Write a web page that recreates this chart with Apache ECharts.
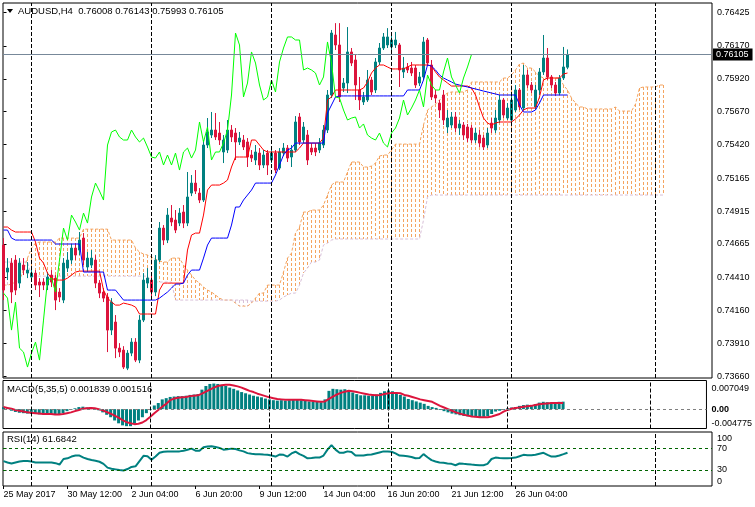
<!DOCTYPE html>
<html>
<head>
<meta charset="utf-8">
<script src="https://cdn.jsdelivr.net/npm/echarts@6.0.0/dist/echarts.min.js"></script>
<style>
html,body{margin:0;padding:0;background:#ffffff;}
#chart{width:755px;height:507px;}
</style>
</head>
<body>
<div id="chart"></div>
<script>
// ================= DATA =================
const symbolName = 'AUDUSD,H4';
const timeLabels = ['25 May 2017','30 May 12:00','2 Jun 04:00','6 Jun 20:00','9 Jun 12:00','14 Jun 04:00','16 Jun 20:00','21 Jun 12:00','26 Jun 04:00'];
const timeLabelBars = [0,16,32,48,64,80,96,112,128];
const gridLineBars = [7,37,67,97,127,163];
const priceTicks = [0.73660,0.73910,0.74160,0.74410,0.74665,0.74915,0.75165,0.75420,0.75670,0.75920,0.76170,0.76425];
const macdTicks = [-0.004775,0,0.007049];
const rsiTicks = [0,30,70,100];
const rsiLevels = [30,70];
const CHIKOU_SHIFT = 24;

// candles: [open, close, low, high]
const candles = [
[0.74657,0.74315,0.74239,0.74710],[0.74452,0.74482,0.74391,0.74558],[0.74520,0.74300,0.74216,0.74558],[0.74543,0.74315,0.74277,0.74581],[0.74368,0.74520,0.74330,0.74558],
[0.74505,0.74467,0.74429,0.74558],[0.74444,0.74467,0.74406,0.74528],[0.74414,0.74444,0.74376,0.74482],[0.74444,0.74353,0.74315,0.74467],[0.74376,0.74353,0.74262,0.74406],
[0.74376,0.74353,0.74315,0.74406],[0.74353,0.74414,0.74315,0.74452],[0.74429,0.74376,0.74338,0.74467],[0.74406,0.74239,0.74163,0.74429],[0.74300,0.74262,0.74224,0.74330],
[0.74239,0.74520,0.74216,0.74558],[0.74482,0.74543,0.74452,0.74604],[0.74543,0.74634,0.74513,0.74665],[0.74634,0.74581,0.74543,0.74672],[0.74619,0.74695,0.74581,0.74756],
[0.74710,0.74543,0.74505,0.74748],[0.74490,0.74558,0.74452,0.74604],[0.74505,0.74558,0.74482,0.74619],[0.74543,0.74368,0.74330,0.74581],[0.74368,0.74292,0.74254,0.74391],
[0.74300,0.74254,0.74224,0.74330],[0.74262,0.74011,0.73844,0.74292],[0.74011,0.74224,0.73973,0.74254],[0.74072,0.73874,0.73798,0.74125],[0.73874,0.73844,0.73806,0.73912],
[0.73859,0.73730,0.73715,0.73889],[0.73722,0.73836,0.73707,0.73859],[0.73836,0.73920,0.73813,0.73950],[0.73920,0.73783,0.73768,0.73950],[0.73783,0.74087,0.73760,0.74125],
[0.74087,0.74391,0.74072,0.74444],[0.74368,0.74406,0.74330,0.74482],[0.74391,0.74300,0.74254,0.74429],[0.74300,0.74543,0.74269,0.74581],[0.74543,0.74786,0.74528,0.74832],
[0.74786,0.74695,0.74657,0.74809],[0.74695,0.74885,0.74672,0.74938],[0.74862,0.74832,0.74801,0.74961],[0.74847,0.74771,0.74748,0.74923],[0.74824,0.74900,0.74801,0.74938],
[0.74908,0.74824,0.74786,0.74961],[0.74824,0.75022,0.74801,0.75212],[0.75052,0.75128,0.75029,0.75189],[0.75128,0.75067,0.75045,0.75227],[0.75052,0.74999,0.74976,0.75090],
[0.74999,0.75417,0.74984,0.75455],[0.75417,0.75516,0.75394,0.75622],[0.75493,0.75531,0.75470,0.75668],[0.75531,0.75478,0.75455,0.75660],[0.75508,0.75455,0.75417,0.75592],
[0.75364,0.75455,0.75280,0.75493],[0.75379,0.75531,0.75356,0.75607],[0.75531,0.75478,0.75440,0.75569],[0.75508,0.75440,0.75303,0.75546],[0.75440,0.75470,0.75417,0.75516],
[0.75455,0.75402,0.75379,0.75493],[0.75440,0.75326,0.75250,0.75470],[0.75341,0.75318,0.75288,0.75379],[0.75303,0.75364,0.75265,0.75417],[0.75356,0.75265,0.75227,0.75394],
[0.75265,0.75341,0.75242,0.75379],[0.75356,0.75265,0.75189,0.75379],[0.75303,0.75356,0.75280,0.75394],[0.75356,0.75227,0.75204,0.75379],[0.75242,0.75364,0.75227,0.75394],
[0.75356,0.75394,0.75333,0.75432],[0.75394,0.75318,0.75288,0.75417],[0.75326,0.75379,0.75250,0.75417],[0.75379,0.75592,0.75364,0.75637],[0.75630,0.75440,0.75417,0.75660],
[0.75455,0.75554,0.75432,0.75592],[0.75493,0.75303,0.75265,0.75531],[0.75394,0.75364,0.75341,0.75432],[0.75394,0.75364,0.75333,0.75432],[0.75379,0.75432,0.75356,0.75470],
[0.75417,0.75531,0.75394,0.75569],[0.75531,0.75797,0.75508,0.75835],[0.75797,0.76268,0.75774,0.76291],[0.76253,0.76177,0.76139,0.76343],[0.76177,0.75782,0.75744,0.76343],
[0.75850,0.75888,0.75820,0.75926],[0.75888,0.76124,0.75812,0.76313],[0.76124,0.76040,0.76017,0.76154],[0.76063,0.75873,0.75759,0.76101],[0.75835,0.75759,0.75683,0.75934],
[0.75744,0.75782,0.75721,0.75820],[0.75759,0.75911,0.75744,0.75987],[0.75911,0.75820,0.75797,0.75934],[0.75835,0.76048,0.75812,0.76078],[0.76048,0.76154,0.76025,0.76192],
[0.76154,0.76238,0.76139,0.76268],[0.76177,0.76238,0.76154,0.76305],[0.76162,0.76215,0.76124,0.76276],[0.76177,0.76215,0.76154,0.76276],[0.76177,0.75987,0.75858,0.76192],
[0.75972,0.76002,0.75926,0.76086],[0.76010,0.75987,0.75964,0.76040],[0.76002,0.75964,0.75941,0.76048],[0.76002,0.75873,0.75850,0.76025],[0.75888,0.75934,0.75865,0.75972],
[0.75934,0.76200,0.75911,0.76238],[0.76215,0.76040,0.76017,0.76230],[0.76025,0.75782,0.75759,0.76063],[0.75797,0.75774,0.75736,0.75835],[0.75736,0.75683,0.75622,0.75759],
[0.75797,0.75607,0.75569,0.75835],[0.75554,0.75622,0.75508,0.75683],[0.75569,0.75630,0.75546,0.75668],[0.75630,0.75546,0.75516,0.75668],[0.75546,0.75577,0.75493,0.75607],
[0.75569,0.75493,0.75455,0.75592],[0.75554,0.75470,0.75440,0.75577],[0.75546,0.75455,0.75432,0.75569],[0.75455,0.75508,0.75432,0.75546],[0.75493,0.75432,0.75402,0.75531],
[0.75470,0.75402,0.75379,0.75493],[0.75417,0.75508,0.75394,0.75546],[0.75584,0.75546,0.75508,0.75622],[0.75531,0.75622,0.75508,0.75683],[0.75607,0.75759,0.75584,0.75797],
[0.75759,0.75645,0.75622,0.75774],[0.75622,0.75698,0.75607,0.75736],[0.75607,0.75759,0.75592,0.75797],[0.75683,0.75835,0.75668,0.75873],[0.75835,0.75706,0.75683,0.75850],
[0.75698,0.75949,0.75683,0.76025],[0.75949,0.75873,0.75850,0.75987],[0.75873,0.75835,0.75812,0.75896],[0.75706,0.75835,0.75683,0.75873],[0.75835,0.75972,0.75797,0.76002],
[0.75972,0.76078,0.75949,0.76253],[0.76078,0.75934,0.75911,0.76154],[0.75934,0.75873,0.75850,0.75949],[0.75873,0.75812,0.75789,0.75896],[0.75812,0.75926,0.75797,0.75949],
[0.75926,0.76010,0.75911,0.76162],[0.76008,0.76105,0.75993,0.76143]
];

const tenkan = [
0.74794,0.74794,0.74771,0.74756,0.74756,0.74756,0.74756,0.74756,0.74680,0.74558,
0.74520,0.74444,0.74406,0.74391,0.74391,0.74391,0.74406,0.74429,0.74452,0.74459,
0.74459,0.74459,0.74459,0.74459,0.74459,0.74315,0.74254,0.74224,0.74201,0.74201,
0.74216,0.74209,0.74201,0.74186,0.74133,0.74133,0.74133,0.74133,0.74133,0.74315,
0.74368,0.74368,0.74368,0.74368,0.74368,0.74368,0.74619,0.74733,0.74748,0.74748,
0.74885,0.75075,0.75113,0.75113,0.75113,0.75128,0.75151,0.75250,0.75326,0.75326,
0.75326,0.75326,0.75455,0.75455,0.75417,0.75379,0.75364,0.75364,0.75364,0.75364,
0.75364,0.75364,0.75364,0.75364,0.75394,0.75432,0.75432,0.75432,0.75432,0.75432,
0.75470,0.75759,0.75782,0.75835,0.75835,0.75835,0.75835,0.75835,0.75835,0.75835,
0.75850,0.75896,0.75964,0.76002,0.76025,0.76025,0.76010,0.75995,0.75995,0.75995,
0.75995,0.76010,0.76025,0.76025,0.76025,0.76025,0.76025,0.76017,0.75972,0.75934,
0.75911,0.75888,0.75865,0.75865,0.75865,0.75865,0.75865,0.75850,0.75797,0.75706,
0.75622,0.75584,0.75569,0.75584,0.75592,0.75592,0.75592,0.75592,0.75615,0.75645,
0.75683,0.75698,0.75698,0.75698,0.75782,0.75911,0.75926,0.75926,0.75926,0.75926,
0.75957,0.75964
];

const kijun = [
0.74771,0.74771,0.74710,0.74695,0.74695,0.74695,0.74695,0.74695,0.74695,0.74695,
0.74695,0.74695,0.74695,0.74665,0.74665,0.74665,0.74665,0.74665,0.74665,0.74665,
0.74452,0.74452,0.74452,0.74452,0.74452,0.74452,0.74315,0.74315,0.74315,0.74277,
0.74239,0.74239,0.74239,0.74239,0.74239,0.74239,0.74239,0.74239,0.74239,0.74254,
0.74277,0.74300,0.74330,0.74361,0.74361,0.74368,0.74429,0.74467,0.74467,0.74467,
0.74558,0.74657,0.74710,0.74710,0.74710,0.74710,0.74710,0.74809,0.74946,0.74946,
0.74999,0.75037,0.75075,0.75128,0.75128,0.75128,0.75128,0.75128,0.75189,0.75265,
0.75341,0.75379,0.75394,0.75432,0.75432,0.75432,0.75432,0.75432,0.75432,0.75432,
0.75432,0.75660,0.75721,0.75782,0.75790,0.75790,0.75790,0.75790,0.75790,0.75790,
0.75790,0.75790,0.75790,0.75790,0.75790,0.75790,0.75790,0.75790,0.75790,0.75790,
0.75790,0.75835,0.75835,0.75835,0.75835,0.75911,0.76025,0.76017,0.75987,0.75949,
0.75926,0.75911,0.75896,0.75880,0.75873,0.75865,0.75858,0.75850,0.75843,0.75835,
0.75827,0.75820,0.75812,0.75805,0.75797,0.75797,0.75797,0.75797,0.75797,0.75721,
0.75668,0.75668,0.75668,0.75683,0.75736,0.75797,0.75797,0.75797,0.75797,0.75797,
0.75797,0.75797
];

const spanA = [
0.74353,0.74353,0.74361,0.74376,0.74391,0.74467,0.74558,0.74634,0.74672,0.74680,
0.74680,0.74680,0.74680,0.74680,0.74710,0.74710,0.74710,0.74710,0.74710,0.74710,
0.74778,0.74778,0.74778,0.74778,0.74778,0.74778,0.74778,0.74695,0.74695,0.74695,
0.74695,0.74695,0.74695,0.74634,0.74604,0.74589,0.74581,0.74566,0.74551,0.74535,
0.74528,0.74528,0.74558,0.74558,0.74558,0.74505,0.74467,0.74429,0.74391,0.74368,
0.74338,0.74315,0.74300,0.74277,0.74254,0.74239,0.74239,0.74239,0.74216,0.74193,
0.74193,0.74193,0.74216,0.74254,0.74292,0.74292,0.74353,0.74353,0.74353,0.74353,
0.74452,0.74558,0.74596,0.74748,0.74794,0.74908,0.74908,0.74923,0.74923,0.74923,
0.74961,0.75037,0.75113,0.75136,0.75136,0.75136,0.75212,0.75288,0.75288,0.75288,
0.75250,0.75250,0.75257,0.75280,0.75333,0.75341,0.75341,0.75379,0.75424,0.75424,
0.75424,0.75424,0.75424,0.75424,0.75424,0.75569,0.75683,0.75706,0.75728,0.75759,
0.75790,0.75812,0.75820,0.75820,0.75820,0.75820,0.75835,0.75896,0.75896,0.75896,
0.75896,0.75896,0.75896,0.75896,0.75896,0.75926,0.75926,0.75949,0.75987,0.76032,
0.76040,0.76002,0.76002,0.75972,0.75941,0.75926,0.75926,0.75926,0.75926,0.75926,
0.75873,0.75835,0.75774,0.75736,0.75706,0.75706,0.75691,0.75691,0.75691,0.75691,
0.75691,0.75691,0.75691,0.75706,0.75675,0.75675,0.75675,0.75675,0.75728,0.75850,
0.75858,0.75858,0.75858,0.75858,0.75873,0.75873
];

const spanB = [
0.74528,0.74528,0.74528,0.74528,0.74528,0.74528,0.74528,0.74421,0.74421,0.74421,
0.74421,0.74421,0.74421,0.74421,0.74421,0.74421,0.74421,0.74421,0.74421,0.74421,
0.74421,0.74421,0.74421,0.74421,0.74421,0.74421,0.74421,0.74421,0.74421,0.74421,
0.74421,0.74421,0.74421,0.74421,0.74421,0.74421,0.74421,0.74376,0.74376,0.74376,
0.74376,0.74376,0.74376,0.74239,0.74239,0.74239,0.74239,0.74239,0.74239,0.74239,
0.74239,0.74239,0.74239,0.74239,0.74239,0.74239,0.74239,0.74239,0.74239,0.74239,
0.74239,0.74239,0.74231,0.74231,0.74231,0.74231,0.74231,0.74231,0.74231,0.74239,
0.74262,0.74277,0.74292,0.74292,0.74353,0.74444,0.74482,0.74528,0.74528,0.74543,
0.74657,0.74672,0.74695,0.74703,0.74703,0.74703,0.74703,0.74703,0.74703,0.74703,
0.74703,0.74703,0.74703,0.74703,0.74703,0.74703,0.74703,0.74703,0.74703,0.74703,
0.74703,0.74703,0.74703,0.74703,0.74703,0.74847,0.75022,0.75037,0.75037,0.75037,
0.75037,0.75037,0.75037,0.75037,0.75037,0.75037,0.75037,0.75037,0.75037,0.75037,
0.75037,0.75037,0.75037,0.75037,0.75037,0.75037,0.75037,0.75037,0.75037,0.75037,
0.75037,0.75037,0.75037,0.75037,0.75037,0.75037,0.75037,0.75037,0.75037,0.75037,
0.75037,0.75037,0.75037,0.75037,0.75037,0.75037,0.75037,0.75037,0.75037,0.75037,
0.75037,0.75037,0.75037,0.75037,0.75037,0.75037,0.75037,0.75037,0.75037,0.75037,
0.75037,0.75037,0.75037,0.75037,0.75037,0.75037
];

const macdHist = [
0.0005,0.0002,-0.0004,-0.0007,-0.0009,-0.0010,-0.0011,-0.0012,-0.0012,-0.0013,
-0.0013,-0.0012,-0.0012,-0.0014,-0.0014,-0.0010,-0.0005,-0.0002,0.0002,0.0005,
0.0006,0.0004,0.0005,0.0002,-0.0003,-0.0008,-0.0014,-0.0020,-0.0028,-0.0035,
-0.0040,-0.0042,-0.0042,-0.0036,-0.0028,-0.0020,-0.0010,-0.0002,0.0009,0.0015,
0.0024,0.0027,0.0030,0.0031,0.0032,0.0032,0.0033,0.0035,0.0036,0.0037,
0.0048,0.0057,0.0062,0.0063,0.0062,0.0060,0.0057,0.0053,0.0050,0.0046,
0.0042,0.0039,0.0036,0.0033,0.0031,0.0029,0.0026,0.0024,0.0022,0.0021,
0.0022,0.0021,0.0022,0.0024,0.0024,0.0022,0.0020,0.0019,0.0018,0.0018,
0.0017,0.0024,0.0045,0.0050,0.0049,0.0048,0.0049,0.0046,0.0041,0.0037,
0.0034,0.0034,0.0033,0.0033,0.0036,0.0040,0.0044,0.0046,0.0044,0.0040,
0.0035,0.0031,0.0025,0.0022,0.0019,0.0016,0.0013,0.0008,0.0005,0.0003,
-0.0002,-0.0005,-0.0008,-0.0011,-0.0013,-0.0015,-0.0017,-0.0018,-0.0019,-0.0020,
-0.0020,-0.0019,-0.0017,-0.0012,-0.0006,-0.0004,-0.0002,0.0002,0.0004,0.0005,
0.0008,0.0010,0.0011,0.0010,0.0012,0.0016,0.0018,0.0017,0.0016,0.0017,
0.0018,0.001839
];

const macdSignal = [
0.0005,0.0003,0.0001,-0.0002,-0.0004,-0.0006,-0.0008,-0.0009,-0.0010,-0.0011,
-0.0012,-0.0012,-0.0012,-0.0013,-0.0013,-0.0012,-0.0010,-0.0008,-0.0005,-0.0002,
0.0001,0.0002,0.0003,0.0002,0.0000,-0.0003,-0.0007,-0.0011,-0.0016,-0.0021,
-0.0027,-0.0032,-0.0035,-0.0037,-0.0036,-0.0033,-0.0027,-0.0019,-0.0010,-0.0002,
0.0006,0.0013,0.0022,0.0026,0.0028,0.0029,0.0030,0.0032,0.0033,0.0034,
0.0038,0.0043,0.0048,0.0053,0.0057,0.0059,0.0060,0.0060,0.0058,0.0056,
0.0053,0.0049,0.0045,0.0042,0.0038,0.0035,0.0032,0.0029,0.0027,0.0025,
0.0024,0.0023,0.0023,0.0023,0.0023,0.0023,0.0022,0.0021,0.0020,0.0019,
0.0018,0.0019,0.0025,0.0031,0.0036,0.0040,0.0043,0.0045,0.0044,0.0042,
0.0040,0.0038,0.0036,0.0035,0.0034,0.0035,0.0037,0.0039,0.0040,0.0040,
0.0039,0.0035,0.0033,0.0030,0.0027,0.0024,0.0022,0.0020,0.0018,0.0013,
0.0008,0.0004,0.0000,-0.0004,-0.0008,-0.0011,-0.0014,-0.0016,-0.0018,-0.0019,
-0.0020,-0.0020,-0.0020,-0.0018,-0.0015,-0.0012,-0.0006,-0.0002,0.0001,0.0003,
0.0004,0.0006,0.0007,0.0008,0.0010,0.0012,0.0013,0.0014,0.0015,0.0015,
0.0015,0.001516
];

const rsi = [
46.0,43.6,41.7,43.6,45.5,46.2,46.2,45.5,43.6,43.6,
43.6,43.6,43.6,42.3,39.7,50.0,51.3,54.5,56.4,56.4,
52.6,50.0,48.0,46.8,44.9,41.0,34.0,32.0,30.8,29.5,
28.8,31.4,35.3,36.5,46.2,55.8,55.1,48.7,54.5,61.5,
63.5,64.1,64.1,64.1,64.1,65.4,67.3,69.2,65.4,65.4,
71.8,73.0,73.7,72.4,70.5,67.3,68.0,69.2,68.6,66.0,
64.1,60.9,59.6,59.0,59.0,58.3,57.7,56.4,54.5,58.3,
57.7,54.5,60.3,63.5,59.0,55.8,51.3,51.9,52.6,52.6,
56.4,67.3,75.6,67.3,61.5,61.5,64.1,62.8,56.4,56.4,
56.4,57.7,58.3,60.3,62.2,64.1,64.1,63.5,60.3,56.4,
55.8,55.1,53.8,51.3,51.9,59.0,53.2,48.0,45.5,43.6,
42.9,41.7,41.0,38.5,41.7,41.0,40.4,39.7,39.1,38.5,
38.5,41.0,50.0,52.6,51.9,51.3,51.3,51.9,52.6,55.1,
57.7,57.0,57.0,57.7,59.6,61.5,57.7,54.5,54.5,56.4,
59.0,61.6842
];

// ================= DERIVED =================
const closes = candles.map(c => c[1]);
const chikou = closes.slice(CHIKOU_SHIFT);           // close plotted CHIKOU_SHIFT bars back
const last = candles[candles.length - 1];
const lastClose = last[1];

// ================= STYLE / LAYOUT =================
const FONT = 'Liberation Sans';
const BULL = '#008080', BEAR = '#DC143C';
const SANDY = '#F4A460', THISTLE = '#D8BFD8';
const X_MIN = -0.125, X_MAX = 177.125;      // 4 px per bar over 709 px
const PRICE_MIN = 0.73647, PRICE_MAX = 0.76496;
const MACD_MIN = macdTicks[0], MACD_MAX = macdTicks[2];
const grids = [
  {left: 3, top: 3, width: 709, height: 375},
  {left: 3, top: 380.5, width: 709, height: 48},
  {left: 3, top: 432, width: 709, height: 54}
];
const lbl = {color: '#000', fontSize: 9, fontFamily: FONT};
const vLineStyle = {color: '#000', type: [4, 2], width: 1};
const vLines = gridLineBars.map(v => ({xAxis: v, lineStyle: vLineStyle}));

function yAx(grid, min, max, vals, fmt, va, tick, pad, weight) {
  return {
    type: 'value', gridIndex: grid, position: 'right', min: min, max: max,
    axisLine: {show: false}, splitLine: {show: false},
    axisTick: {show: tick, customValues: vals, length: 3, lineStyle: {color: '#000'}},
    axisLabel: Object.assign({customValues: vals, formatter: fmt, margin: 5, verticalAlign: va,
      padding: pad || 0, fontWeight: weight || 'normal'}, lbl)
  };
}

// Kumo hatching: dotted vertical strokes (small filled rects) between Senkou A and B
function renderKumo(params, api) {
  const i = api.value(0), a = api.value(1), b = api.value(2);
  const pa = api.coord([i, a]), pb = api.coord([i, b]);
  const x = Math.floor(pa[0]);
  const top = Math.round(Math.min(pa[1], pb[1])), bottom = Math.round(Math.max(pa[1], pb[1]));
  const fill = a >= b ? SANDY : THISTLE;
  const children = [];
  for (let y = top; y < bottom; y += 5) {
    children.push({type: 'rect', shape: {x: x, y: y, width: 1, height: Math.min(3, bottom - y)},
      style: {fill: fill, stroke: null}});
  }
  return {type: 'group', children: children};
}

const chart = echarts.init(document.getElementById('chart'), null, {renderer: 'canvas'});
const option = {
  animation: false,
  backgroundColor: '#ffffff',
  textStyle: {fontFamily: FONT},
  grid: grids.map(g => Object.assign({show: true, borderColor: '#000', borderWidth: 1, backgroundColor: 'transparent'}, g)),
  xAxis: [0, 1, 2].map(g => ({
    type: 'value', gridIndex: g, min: X_MIN, max: X_MAX, show: g === 2,
    axisLine: {show: false}, splitLine: {show: false},
    axisTick: {show: g === 2, customValues: timeLabelBars, length: 3, lineStyle: {color: '#000'}},
    axisLabel: Object.assign({show: g === 2, customValues: timeLabelBars, align: 'left', margin: 4,
      formatter: v => timeLabels[timeLabelBars.indexOf(v)] || ''}, lbl)
  })),
  yAxis: [
    yAx(0, PRICE_MIN, PRICE_MAX, priceTicks, v => v.toFixed(5), 'middle', true),
    yAx(1, MACD_MIN, MACD_MAX, [0], () => '0.00', 'middle', true, 0, 'bold'),
    yAx(1, MACD_MIN, MACD_MAX, [MACD_MAX], v => v.toFixed(6), 'top', false, [4, 0, 0, 0]),
    yAx(1, MACD_MIN, MACD_MAX, [MACD_MIN], v => v.toFixed(6), 'bottom', false),
    yAx(2, 0, 100, rsiLevels, v => String(v), 'middle', true),
    yAx(2, 0, 100, [100], v => String(v), 'top', false, [2, 0, 0, 0]),
    yAx(2, 0, 100, [0], v => String(v), 'bottom', false)
  ],
  graphic: [
    {type: 'polygon', shape: {points: [[7, 9], [13, 9], [10, 13]]}, style: {fill: '#000'}, silent: true},
    {type: 'text', x: 18, y: 11, silent: true, style: {
      text: symbolName + '  ' + [last[0], last[3], last[2], last[1]].map(v => v.toFixed(5)).join(' '),
      fill: '#000', fontSize: 9.5, fontFamily: FONT, verticalAlign: 'middle'}},
    {type: 'text', x: 7, y: 389, silent: true, style: {
      text: 'MACD(5,35,5) ' + macdHist[macdHist.length - 1].toFixed(6) + ' ' + macdSignal[macdSignal.length - 1].toFixed(6),
      fill: '#000', fontSize: 9.5, fontFamily: FONT, verticalAlign: 'middle'}},
    {type: 'text', x: 7, y: 439, silent: true, style: {
      text: 'RSI(14) ' + rsi[rsi.length - 1].toFixed(4),
      fill: '#000', fontSize: 9.5, fontFamily: FONT, verticalAlign: 'middle'}}
  ],
  series: [
    {type: 'custom', name: 'Kumo', xAxisIndex: 0, yAxisIndex: 0, z: 1, clip: true, silent: true,
      data: spanA.map((a, i) => [i, a, spanB[i]]),
      encode: {x: 0, y: [1, 2]},
      renderItem: renderKumo,
      markLine: {silent: true, symbol: ['none', 'none'], label: {show: false}, data: vLines}},
    {type: 'line', name: 'Senkou A', xAxisIndex: 0, yAxisIndex: 0, z: 2, symbol: 'none', silent: true,
      data: spanA.map((v, i) => [i, v]), lineStyle: {color: SANDY, width: 1, type: [3, 2]}},
    {type: 'line', name: 'Senkou B', xAxisIndex: 0, yAxisIndex: 0, z: 2, symbol: 'none', silent: true,
      data: spanB.map((v, i) => [i, v]), lineStyle: {color: THISTLE, width: 1, type: [3, 2]}},
    {type: 'candlestick', name: symbolName, xAxisIndex: 0, yAxisIndex: 0, z: 3, silent: true,
      data: candles.map((c, i) => [i, c[0], c[1], c[2], c[3]]),
      encode: {x: 0, y: [1, 2, 3, 4]},
      barWidth: 2,
      itemStyle: {color: BULL, color0: BEAR, borderColor: BULL, borderColor0: BEAR, borderWidth: 1}
    },
    {type: 'line', name: 'Tenkan-sen', xAxisIndex: 0, yAxisIndex: 0, z: 4, symbol: 'none', silent: true,
      data: tenkan.map((v, i) => [i, v]), lineStyle: {color: '#FF0000', width: 1},
      markLine: {silent: true, symbol: ['none', 'none'], precision: 5,
        data: [{yAxis: lastClose,
          lineStyle: {color: '#778899', type: 'solid', width: 1},
          label: {show: true, position: 'end', distance: 1, formatter: lastClose.toFixed(5),
            backgroundColor: '#000', color: '#fff', padding: [2, 4, 1, 3], fontSize: 9, fontFamily: FONT}}]}},
    {type: 'line', name: 'Kijun-sen', xAxisIndex: 0, yAxisIndex: 0, z: 4, symbol: 'none', silent: true,
      data: kijun.map((v, i) => [i, v]), lineStyle: {color: '#0000FF', width: 1}},
    {type: 'line', name: 'Chikou Span', xAxisIndex: 0, yAxisIndex: 0, z: 4, symbol: 'none', silent: true,
      data: chikou.map((v, i) => [i, v]), lineStyle: {color: '#00FF00', width: 1}},
    {type: 'bar', name: 'MACD', xAxisIndex: 1, yAxisIndex: 1, z: 2, barWidth: 3, silent: true,
      data: macdHist.map((v, i) => [i, v]), itemStyle: {color: BULL},
      markLine: {silent: true, symbol: ['none', 'none'], label: {show: false}, precision: 6,
        data: vLines.concat([{yAxis: 0, lineStyle: {color: '#808080', type: [3, 3], width: 1}}])}
    },
    {type: 'line', name: 'Signal', xAxisIndex: 1, yAxisIndex: 1, z: 3, symbol: 'none', silent: true,
      data: macdSignal.map((v, i) => [i, v]), lineStyle: {color: BEAR, width: 2}},
    {type: 'line', name: 'RSI', xAxisIndex: 2, yAxisIndex: 4, z: 3, symbol: 'none', silent: true,
      data: rsi.map((v, i) => [i, v]), lineStyle: {color: BULL, width: 2},
      markLine: {silent: true, symbol: ['none', 'none'], label: {show: false},
        data: vLines.concat(rsiLevels.map(l => ({yAxis: l, lineStyle: {color: '#006400', type: [3, 3], width: 1}})))}
    }
  ]
};
chart.setOption(option);
</script>
</body>
</html>
